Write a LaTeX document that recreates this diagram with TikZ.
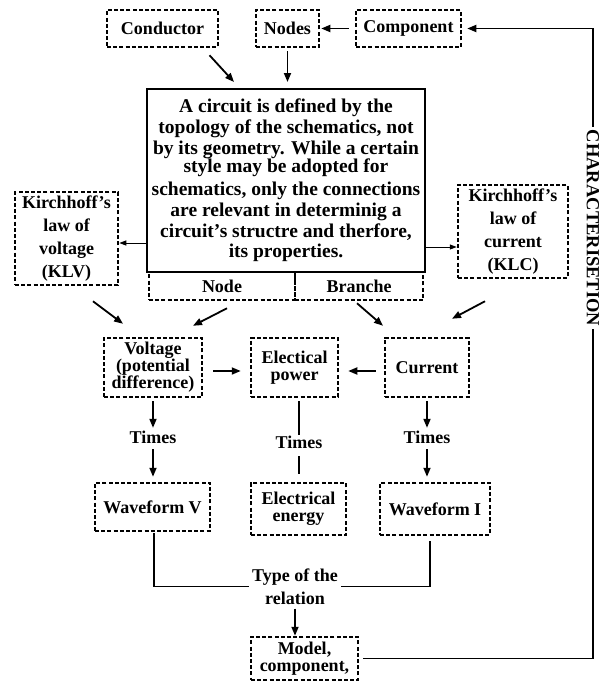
\documentclass[tikz,border=0pt]{standalone}
\usepackage{fontspec}
\setmainfont{Liberation Serif}
\usetikzlibrary{arrows.meta}
\begin{document}
\begin{tikzpicture}[x=1pt,y=-1pt,
  dbox/.style={draw, line width=2.5pt, dash pattern=on 4pt off 2.2pt, inner sep=0pt, align=center, font=\fontsize{18}{23}\selectfont\bfseries},
  lbl/.style={inner sep=0pt, align=center, font=\fontsize{18}{23}\selectfont\bfseries},
  arr/.style={line width=1.8pt, -{Triangle[length=9pt,width=7pt]}},
  arrthin/.style={line width=1pt, -{Triangle[length=7pt,width=5pt]}},
  conn/.style={line width=1.8pt}]
\useasboundingbox (0,0) rectangle (608,681);

% top row
\node[dbox, minimum width=111pt, minimum height=37pt] (cond) at (162.5,28.5) {Conductor};
\node[dbox, minimum width=63pt, minimum height=37pt] (nodes) at (287.5,28.5) {Nodes};
\node[dbox, minimum width=105pt, minimum height=37pt] (comp) at (408.5,28.5) {Component};

% main box
\node[draw, line width=2pt, minimum width=278pt, minimum height=183pt, inner sep=0pt, align=center,
      font=\fontsize{19.5}{21}\selectfont\bfseries] (main) at (286,180.5)
  {A circuit is defined by the\\
   topology of the schematics, not\\
   by its geometry. While a certain\\[-3pt]
   style may be adopted for\\[2pt]
   schematics, only the connections\\
   are relevant in determinig a\\
   circuit’s structre and therfore,\\[-1pt]
   its properties.};
\node[dbox, minimum width=146pt, minimum height=28pt] (nodeS) at (222,286) {Node};
\node[dbox, minimum width=128pt, minimum height=28pt] (branS) at (359,286) {Branche};

% Kirchhoff boxes
\node[dbox, minimum width=103pt, minimum height=93pt] (klv) at (66.5,238.5) {Kirchhoff’s\\law of\\voltage\\(KLV)};
\node[dbox, minimum width=110pt, minimum height=93pt] (klc) at (513,231.5) {Kirchhoff’s\\law of\\current\\(KLC)};

% quantities
\node[dbox, minimum width=98pt, minimum height=59pt, font=\fontsize{18}{16.5}\selectfont\bfseries] (volt) at (153,367.5) {Voltage\\(potential\\difference)};
\node[dbox, minimum width=87pt, minimum height=59pt, font=\fontsize{18}{17}\selectfont\bfseries] (power) at (294.5,367.5) {Electical\\power};
\node[dbox, minimum width=84pt, minimum height=59pt] (curr) at (427,367.5) {Current};

% times labels
\node[lbl, text height=12pt, text depth=0pt] (timesV) at (153,437) {Times};
\node[lbl, text height=12pt, text depth=0pt] (timesP) at (299,442) {Times};
\node[lbl, text height=12pt, text depth=0pt] (timesI) at (427,437) {Times};

% waveforms
\node[dbox, minimum width=115pt, minimum height=48pt] (wavV) at (152.5,507) {Waveform V};
\node[dbox, minimum width=95pt, minimum height=52pt, font=\fontsize{18}{17}\selectfont\bfseries] (energy) at (298.5,509) {Electrical\\energy};
\node[dbox, minimum width=110pt, minimum height=52pt] (wavI) at (435,509) {Waveform I};

% relation and model
\node[lbl, inner sep=3pt] (type) at (295,586.5) {Type of the\\relation};
\node[dbox, minimum width=107pt, minimum height=43pt, font=\fontsize{18}{17}\selectfont\bfseries] (model) at (304.5,658.5) {Model,\\component,};

% characterisation label
\node[lbl, rotate=-90, inner xsep=3pt, font=\fontsize{18.5}{20}\selectfont\bfseries] (char) at (593,228) {CHARACTERISETION};

% connectors, top
\draw[arr, shorten >=5pt] (char.west) |- (comp.east);
\draw[arr, shorten <=6pt, shorten >=1pt] (comp.west) -- (nodes.east);
\draw[arr] ([shift={(47,7)}]cond.south) -- ([shift={(-52,-6)}]main.north);
\draw[arr] ([shift={(0,3)}]nodes.south) -- ([shift={(0,-6)}]nodes.south |- main.north);

% main to Kirchhoff
\path ([shift={(0,62.5)}]main.west) coordinate (a1);
\draw[arrthin] (a1) -- (a1 -| klv.east);
\path ([shift={(0,66.5)}]main.east) coordinate (a2);
\draw[arrthin] (a2) -- (a2 -| klc.west);

% to quantities
\draw[arr] ([shift={(26.5,15)}]klv.south) -- ([shift={(-30,-13)}]volt.north);
\draw[arr] ([shift={(5,7)}]nodeS.south) -- ([shift={(40,-11)}]volt.north);
\draw[arr] ([shift={(-2,2)}]branS.south) -- ([shift={(-44,-11)}]curr.north);
\draw[arr] ([shift={(-28,22)}]klc.south) -- ([shift={(25,-18)}]curr.north);
\draw[arr] ([shift={(10,3.5)}]volt.east) -- ([shift={(-9,3.5)}]power.west);
\draw[arr] ([shift={(-8,3.5)}]curr.west) -- ([shift={(9,3.5)}]power.east);

% times
\draw[arr, shorten <=3pt, shorten >=3pt] (volt.south) -- (timesV.north);
\draw[arr, shorten <=6pt, shorten >=5pt] (timesV.south) -- (timesV.south |- wavV.north);
\draw[conn, shorten <=3pt, shorten >=1pt] (power.south -| timesP.north) -- (timesP.north);
\draw[conn, shorten <=8pt, shorten >=8pt] (timesP.south) -- (timesP.south |- energy.north);
\draw[arr, shorten <=3pt, shorten >=3pt] (curr.south) -- (timesI.north);
\draw[arr, shorten <=6pt, shorten >=5pt] (timesI.south) -- (timesI.south |- wavI.north);

% relation
\draw[conn, shorten <=1pt] ([shift={(1.5,0)}]wavV.south) |- (type.west);
\draw[conn, shorten <=5pt] ([shift={(-5,0)}]wavI.south) |- (type.east);
\draw[arr, shorten <=1pt] (type.south) -- (type.south |- model.north);
\draw[conn, shorten >=4pt] (char.east) |- (model.east);
\end{tikzpicture}
\end{document}
